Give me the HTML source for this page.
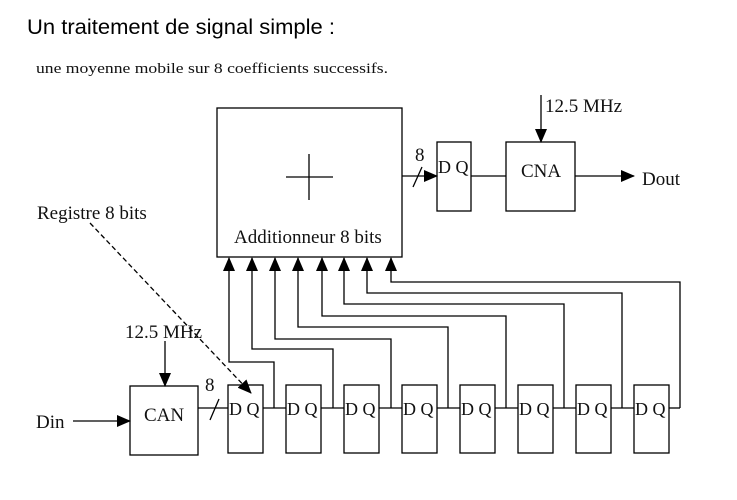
<!DOCTYPE html>
<html><head><meta charset="utf-8"><style>
html,body{margin:0;padding:0;background:#fff;}
svg{display:block;}
.s{font-family:"Liberation Serif",serif;fill:#111;}
</style></head><body>
<svg width="737" height="500" viewBox="0 0 737 500" xmlns="http://www.w3.org/2000/svg">
<defs>
<marker id="b" markerWidth="14" markerHeight="12" refX="13" refY="6" orient="auto" markerUnits="userSpaceOnUse">
<path d="M0,0 L14,6 L0,12 z" fill="#000"/></marker>
</defs>
<text x="27" y="34" font-family="Liberation Sans,sans-serif" font-size="21" fill="#000" textLength="308" lengthAdjust="spacingAndGlyphs">Un traitement de signal simple :</text>
<text x="36" y="73" class="s" font-size="15" textLength="352" lengthAdjust="spacingAndGlyphs">une moyenne mobile sur 8 coefficients successifs.</text>

<g stroke="#000" stroke-width="1.3" fill="none">
<rect x="217" y="108" width="185" height="149"/>
<line x1="286" y1="177" x2="333" y2="177"/>
<line x1="309" y1="154" x2="309" y2="200"/>
<line x1="402" y1="176" x2="437" y2="176" marker-end="url(#b)"/>
<line x1="413" y1="187" x2="422" y2="167"/>
<rect x="437" y="142" width="34" height="69"/>
<line x1="471" y1="176" x2="506" y2="176"/>
<rect x="506" y="142" width="69" height="69"/>
<line x1="575" y1="176" x2="634" y2="176" marker-end="url(#b)"/>
<line x1="541" y1="95" x2="541" y2="142" marker-end="url(#b)"/>
<rect x="130" y="386" width="68" height="69"/>
<line x1="73" y1="421" x2="130" y2="421" marker-end="url(#b)"/>
<line x1="165" y1="341" x2="165" y2="386" marker-end="url(#b)"/>
<line x1="198" y1="408" x2="228" y2="408"/>
<line x1="210" y1="420" x2="219" y2="399"/>
<line x1="90" y1="223" x2="251" y2="393" stroke-dasharray="5,3" marker-end="url(#b)"/>
<rect x="228" y="385" width="35" height="68"/>
<rect x="286" y="385" width="35" height="68"/>
<rect x="344" y="385" width="35" height="68"/>
<rect x="402" y="385" width="35" height="68"/>
<rect x="460" y="385" width="35" height="68"/>
<rect x="518" y="385" width="35" height="68"/>
<rect x="576" y="385" width="35" height="68"/>
<rect x="634" y="385" width="35" height="68"/>
<line x1="263" y1="408" x2="286" y2="408"/>
<line x1="321" y1="408" x2="344" y2="408"/>
<line x1="379" y1="408" x2="402" y2="408"/>
<line x1="437" y1="408" x2="460" y2="408"/>
<line x1="495" y1="408" x2="518" y2="408"/>
<line x1="553" y1="408" x2="576" y2="408"/>
<line x1="611" y1="408" x2="634" y2="408"/>
<line x1="669" y1="408" x2="680" y2="408"/>
<polyline points="274,408 274,362 229,362 229,258" marker-end="url(#b)"/>
<polyline points="333,408 333,349 252,349 252,258" marker-end="url(#b)"/>
<polyline points="391,408 391,339 275,339 275,258" marker-end="url(#b)"/>
<polyline points="448,408 448,327 298,327 298,258" marker-end="url(#b)"/>
<polyline points="506,408 506,316 322,316 322,258" marker-end="url(#b)"/>
<polyline points="564,408 564,304 344,304 344,258" marker-end="url(#b)"/>
<polyline points="622,408 622,293 367,293 367,258" marker-end="url(#b)"/>
<polyline points="680,408 680,282 391,282 391,258" marker-end="url(#b)"/>
</g>

<g class="s" font-size="19">
<text x="234" y="243">Additionneur 8 bits</text>
<text x="415" y="161">8</text>
<text x="438" y="173" font-size="18">D Q</text>
<text x="521" y="177">CNA</text>
<text x="642" y="185">Dout</text>
<text x="545" y="112">12.5 MHz</text>
<text x="37" y="219">Registre 8 bits</text>
<text x="125" y="338">12.5 MHz</text>
<text x="144" y="421">CAN</text>
<text x="36" y="428">Din</text>
<text x="205" y="391">8</text>
<g font-size="18">
<text x="229" y="415">D Q</text>
<text x="287" y="415">D Q</text>
<text x="345" y="415">D Q</text>
<text x="403" y="415">D Q</text>
<text x="461" y="415">D Q</text>
<text x="519" y="415">D Q</text>
<text x="577" y="415">D Q</text>
<text x="635" y="415">D Q</text>
</g>
</g>
</svg>
</body></html>
